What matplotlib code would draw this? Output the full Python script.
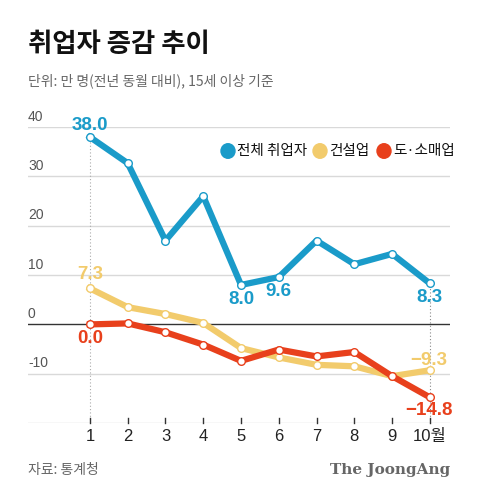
"""Employment change by month (vs. same month last year)."""
import matplotlib.pyplot as plt

plt.rcParams["font.family"] = ["Noto Sans CJK KR", "DejaVu Sans"]
NUM_FONT = ["Liberation Sans", "Noto Sans CJK KR"]

# data
months = [1, 2, 3, 4, 5, 6, 7, 8, 9, 10]
month_labels = ["1", "2", "3", "4", "5", "6", "7", "8", "9", "10월"]
total = [38.0, 32.7, 17.0, 26.0, 8.0, 9.6, 17.0, 12.2, 14.3, 8.3]
construction = [7.3, 3.5, 2.1, 0.3, -4.8, -6.7, -8.2, -8.5, -10.5, -9.3]
retail = [0.0, 0.2, -1.6, -4.1, -7.4, -5.1, -6.5, -5.6, -10.5, -14.8]
series_names = ["전체 취업자", "건설업", "도·소매업"]
y_ticks = [-20, -10, 0, 10, 20, 30, 40]

BLUE = "#1a9bc9"
YELLOW = "#f2cb6c"
RED = "#e8401c"

fig = plt.figure(figsize=(4.8, 4.98), dpi=100)
ax = fig.add_axes([0.0583, 0.1506, 0.879, 0.594])
ax.set_xlim(-0.64, 10.53)
ax.set_ylim(-20, 40)
for s in ax.spines.values():
    s.set_visible(False)
ax.set_yticks([])
ax.set_xticks([])

# grid lines and y labels
for v in y_ticks:
    if v == 0:
        ax.axhline(v, color="#333333", lw=1.0, zorder=1)
    else:
        ax.axhline(v, color="#d9d9d9", lw=1.0, zorder=1)
    if v > -20:
        ax.text(-0.64, v + 0.7, str(v), color="#555555", family=NUM_FONT,
                fontsize=10, ha="left", va="bottom")

# x ticks
for m, lab in zip(months, month_labels):
    ax.plot([m, m], [-20, -19], color="#333333", lw=1.0, clip_on=False, zorder=2)
    ax.text(m, -21.3, lab, ha="center", va="top", fontsize=12, color="#222222",
            family=NUM_FONT)

# dotted guides
ax.plot([1, 1], [-20, total[0]], color="#aaaaaa", lw=0.8, ls=(0, (1, 2)), zorder=1)
ax.plot([10, 10], [-20, total[-1]], color="#888888", lw=0.8, ls=(0, (1, 2)), zorder=1)

# lines
for vals, col, z in [(construction, YELLOW, 3), (retail, RED, 4), (total, BLUE, 5)]:
    ax.plot(months, vals, color=col, lw=4.5, zorder=z, solid_joinstyle="round",
            marker="o", markersize=5.5, markerfacecolor="white",
            markeredgecolor=col, markeredgewidth=1.0)

# value labels
lab_kw = dict(fontsize=13.5, fontweight="bold", ha="center", family=NUM_FONT)
ax.text(1, total[0] + 0.6, f"{total[0]:.1f}", color=BLUE, va="bottom", **lab_kw)
ax.text(5, total[4] - 1.2, f"{total[4]:.1f}", color=BLUE, va="top", **lab_kw)
ax.text(6, total[5] - 1.2, f"{total[5]:.1f}", color=BLUE, va="top", **lab_kw)
ax.text(10, total[9] - 1.2, f"{total[9]:.1f}", color=BLUE, va="top", **lab_kw)
ax.text(1, construction[0] + 1.0, f"{construction[0]:.1f}", color=YELLOW, va="bottom", **lab_kw)
ax.text(1, retail[0] - 1.2, f"{retail[0]:.1f}", color=RED, va="top", **lab_kw)
lab_kw["ha"] = "right"
ax.text(10.45, construction[9] + 0.3, f"−{abs(construction[9]):.1f}", color=YELLOW,
        va="bottom", **lab_kw)
ax.text(10.6, retail[9] - 1.0, f"−{abs(retail[9]):.1f}", color=RED, va="top", **lab_kw)

# legend
leg_x = [228, 320, 384]
leg_y = 1 - 151 / 498
for (x, col, name) in zip(leg_x, [BLUE, YELLOW, RED], series_names):
    fig.add_artist(plt.Circle((x / 480, leg_y), 7 / 480, color=col,
                              transform=fig.transFigure))
    fig.text((x + 9) / 480, leg_y, name, color="#111111", fontsize=10.5,
             ha="left", va="center")

# titles
fig.text(28 / 480, 1 - 45 / 498, "취업자 증감 추이", fontsize=19, fontweight="heavy",
         ha="left", va="center", color="#111111")
fig.text(28 / 480, 1 - 81 / 498, "단위: 만 명(전년 동월 대비), 15세 이상 기준",
         fontsize=10, ha="left", va="center", color="#666666")
fig.text(28 / 480, 1 - 470 / 498, "자료: 통계청", fontsize=10, ha="left",
         va="center", color="#666666")
fig.text(450 / 480, 1 - 470 / 498, "The JoongAng", fontsize=11, fontweight="bold",
         family="DejaVu Serif", ha="right", va="center", color="#666666")

fig.savefig("out.png", dpi=100)
